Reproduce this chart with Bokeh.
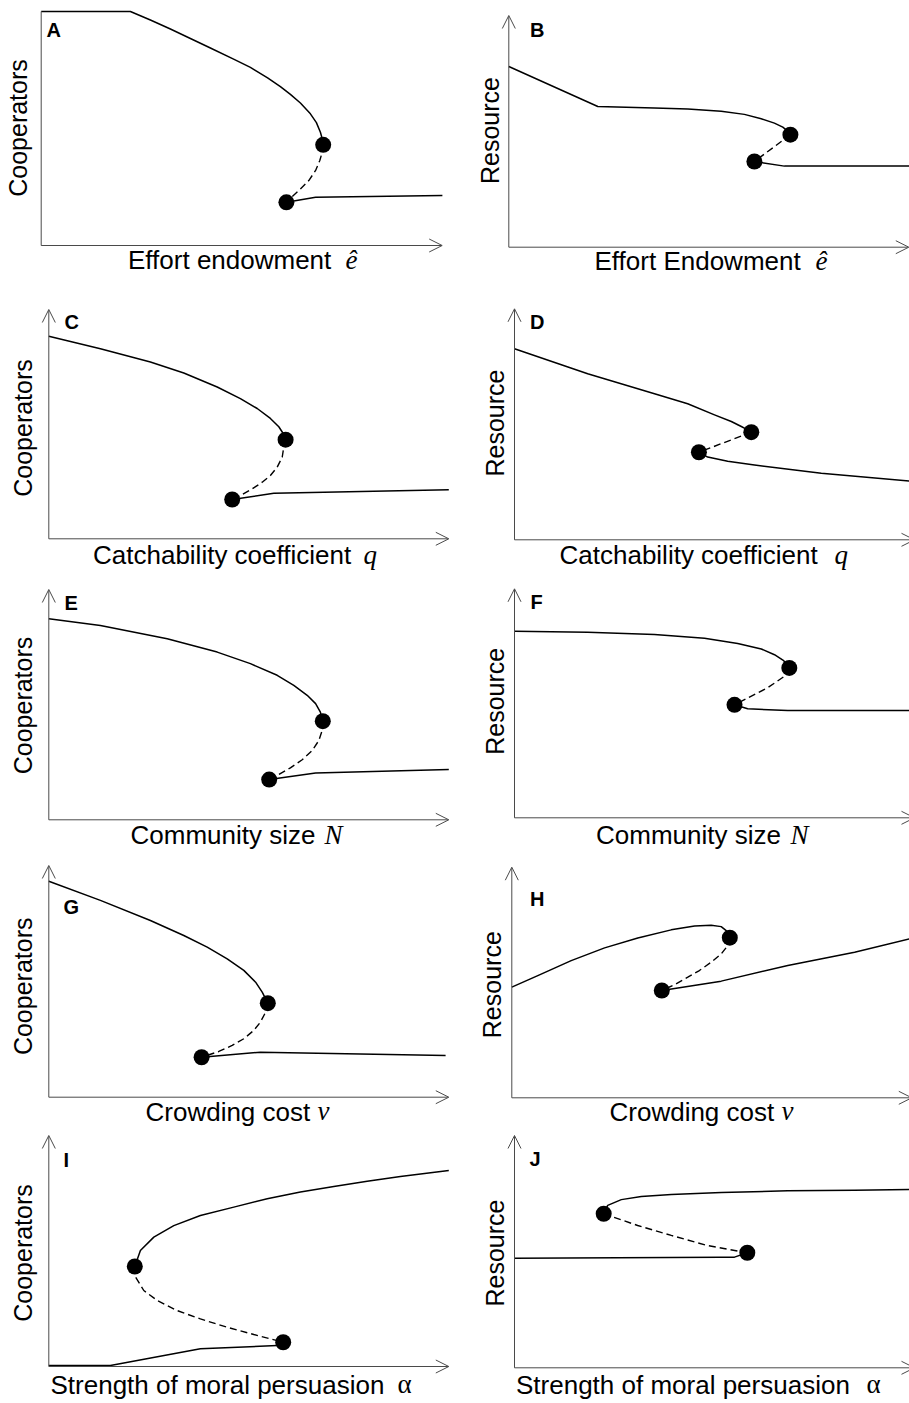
import math
from bokeh.plotting import figure
from bokeh.layouts import column, row
from bokeh.models import Range1d, Label, Arrow, OpenHead
from bokeh.embed import file_html
from bokeh.resources import INLINE

# ---------------- data (arbitrary units) ----------------
# each panel: upper stable branch, unstable (dashed) branch, lower stable branch
A_UP_X = [0, 22.3, 27.3, 32.3, 37.3, 42.3, 48.1, 52.3, 56.6, 59.8, 62.3, 64.8, 67.3, 68.8, 69.8, 70.45, 70.5]
A_UP_Y = [101.3, 101.3, 97.6, 93.7, 89.6, 85.5, 80.7, 77.1, 72.6, 68.8, 65.4, 61.7, 57.0, 53.2, 49.0, 45.0, 43.6]
A_MID_X = [70.5, 70.25, 69.65, 68.6, 66.9, 64.8, 62.75, 61.3]
A_MID_Y = [43.6, 40.4, 36.8, 32.5, 28.1, 24.5, 21.2, 18.7]
A_LO_X = [61.3, 68.6, 100.3]
A_LO_Y = [18.7, 20.9, 21.6]

B_UP_X = [0, 22.25, 36.4, 44.75, 53.1, 58.9, 63.1, 66.4, 68.5, 69.75, 70.4]
B_UP_Y = [78.2, 60.9, 60.3, 59.8, 58.9, 57.5, 55.6, 53.7, 52.0, 50.2, 48.7]
B_MID_X = [70.4, 61.4]
B_MID_Y = [48.7, 37.1]
B_LO_X = [61.4, 68.9, 100.2]
B_LO_Y = [37.1, 35.1, 35.1]

C_UP_X = [0, 12.9, 25.4, 33.75, 42.1, 47.9, 52.1, 55.4, 57.5, 58.6, 59.2]
C_UP_Y = [87.7, 82.3, 76.5, 71.8, 65.7, 60.7, 56.4, 52.1, 48.5, 45.6, 42.9]
C_MID_X = [59.2, 58.75, 58.35, 57.1, 55.4, 53.35, 50.85, 48.35, 45.85]
C_MID_Y = [42.9, 39.7, 35.3, 31.0, 27.4, 24.5, 21.6, 19.2, 17.0]
C_LO_X = [45.85, 56.25, 100]
C_LO_Y = [17.0, 19.7, 21.2]

D_UP_X = [0, 18.3, 35, 43.3, 50, 54.2, 56.7, 58.3, 59.2]
D_UP_Y = [82.7, 71.9, 63.2, 58.9, 54.1, 51.2, 49.05, 47.6, 46.6]
D_MID_X = [59.2, 46.1]
D_MID_Y = [46.6, 37.9]
D_LO_X = [46.1, 48.3, 53.3, 60, 76.7, 98.75]
D_LO_Y = [37.9, 35.8, 34.0, 32.4, 28.8, 25.4]

E_UP_X = [0, 12.9, 29.6, 42.1, 50.4, 57.1, 61.25, 64.6, 66.7, 67.9, 68.5]
E_UP_Y = [87.0, 84.1, 78.4, 72.6, 67.6, 62.55, 58.2, 53.9, 50.3, 46.6, 42.7]
E_MID_X = [68.5, 68.35, 67.5, 65.85, 63.35, 60.4, 57.5, 55.1]
E_MID_Y = [42.7, 38.7, 34.3, 30.0, 26.0, 22.5, 19.6, 17.4]
E_LO_X = [55.1, 66.7, 100]
E_LO_Y = [17.4, 20.3, 21.8]

F_UP_X = [0, 18.3, 35, 47.5, 55.8, 61.7, 65, 67.1, 68.3, 68.7]
F_UP_Y = [80.8, 80.3, 79.3, 77.7, 75.5, 73.1, 70.6, 68.3, 66.3, 64.9]
F_MID_X = [68.7, 67.5, 63.3, 58.3, 55.0]
F_MID_Y = [64.9, 61.3, 56.3, 51.9, 48.9]
F_LO_X = [55.0, 58.3, 68.3, 98.75]
F_LO_Y = [48.9, 47.2, 46.45, 46.45]

G_UP_X = [0, 12.9, 25.4, 33.75, 39.6, 44.6, 48.75, 51.7, 53.35, 54.75]
G_UP_Y = [93.5, 85.2, 76.5, 70.0, 65.0, 59.9, 54.9, 49.8, 45.5, 40.7]
G_MID_X = [54.75, 54.2, 52.9, 51.25, 48.75, 45.85, 42.5, 38.2]
G_MID_Y = [40.7, 36.8, 32.5, 28.9, 25.3, 22.4, 19.8, 17.3]
G_LO_X = [38.2, 52.9, 99.2]
G_LO_Y = [17.3, 19.5, 18.05]

H_UP_X = [0, 6.5, 14.85, 23.2, 31.5, 39.85, 45.7, 49.85, 52.35, 53.6, 54.5]
H_UP_Y = [47.9, 52.9, 59.4, 64.9, 69.2, 72.7, 74.4, 74.7, 74.1, 72.4, 69.3]
H_MID_X = [54.5, 54.0, 52.35, 49.85, 46.9, 44.0, 40.7, 37.5]
H_MID_Y = [69.3, 65.9, 62.3, 58.7, 55.1, 52.2, 49.0, 46.45]
H_LO_X = [37.5, 52.35, 69, 85.7, 99.4]
H_LO_Y = [46.45, 50.5, 57.3, 63.0, 68.8]

I_UP_X = [21.5, 22.9, 26.25, 31.25, 37.9, 46.25, 54.6, 62.9, 71.25, 79.6, 87.9, 100]
I_UP_Y = [43.3, 50.2, 56.0, 61.0, 65.4, 69.0, 72.6, 75.5, 77.9, 80.2, 82.25, 84.8]
I_MID_X = [21.5, 21.7, 23.75, 27.1, 32.1, 37.9, 44.6, 51.25, 58.6]
I_MID_Y = [43.3, 38.7, 32.9, 28.6, 24.2, 20.6, 17.0, 13.85, 10.5]
I_LO_X = [0, 15.4, 37.9, 58.6]
I_LO_Y = [0.4, 0.4, 7.7, 9.2]

J_UP_X = [22.3, 23.3, 26.7, 31.7, 39.2, 51.7, 68.3, 85, 98.75]
J_UP_Y = [66.7, 70.3, 72.8, 74.2, 75.0, 75.9, 76.6, 76.9, 77.2]
J_MID_X = [22.3, 30.8, 39.2, 48.3, 58.2]
J_MID_Y = [66.7, 61.6, 57.3, 52.9, 49.8]
J_LO_X = [0, 51.7, 55, 58.2]
J_LO_Y = [47.4, 47.9, 47.9, 49.8]

LETTERS = ["A", "B", "C", "D", "E", "F", "G", "H", "I", "J"]
Y_LABELS = ["Cooperators", "Resource"]
X_LABELS = ["Effort endowment", "Effort Endowment", "Catchability coefficient",
            "Catchability coefficient", "Community size", "Community size",
            "Crowding cost", "Crowding cost", "Strength of moral persuasion",
            "Strength of moral persuasion"]
X_SYMBOLS = ["ê", "ê", "q", "q", "N", "N", "ν", "ν", "α", "α"]

# ---------------- layout / styling ----------------
PX_PER_X = 4.0
PX_PER_Y = 2.31
SANS = "Liberation Sans"
SERIF = "Liberation Serif"
AXIS_COLOR = "#4a4a4a"
BASE_SHIFT = 0.34   # compensation of the text anchor (fraction of font size)
XLAB_SIZE = 26
SYM_SIZE = 27
YLAB_SIZE = 25
LET_SIZE = 20

COLS = [(0, 454), (454, 909)]
ROWS = [(0, 288), (288, 575), (575, 852), (852, 1127), (1127, 1403)]

# axis boxes (origin-left, top end, right end, origin-bottom) in page pixels
AXES = [(40.7, 11, 441.7, 245), (508.3, 15, 908.3, 246.7),
        (48.3, 309, 448.3, 538.3), (514, 308.3, 914, 539.3),
        (48.3, 589, 448.3, 819.3), (514, 588.3, 914, 817.3),
        (48.3, 865, 448.3, 1096.7), (511.3, 866.7, 911.3, 1097.3),
        (48.3, 1135, 448.3, 1366), (514, 1135, 914, 1367.3)]
# text positions in page pixels: (label left, baseline, symbol left)
XLAB_POS = [(127.5, 268.5, 345), (594, 269.5, 815), (92.5, 563.3, 363), (559, 563.3, 834),
            (130, 843.3, 324), (595.5, 843.3, 790), (145, 1120, 317), (609, 1120, 781),
            (50, 1393, 397), (515.5, 1393, 866)]
YLAB_POS = [(26.2, 127.5), (497.8, 130), (31.2, 427.5), (502.8, 422.5),
            (31.2, 705), (502.8, 700.8), (31.2, 985.8), (499.5, 984.2),
            (31.2, 1252.5), (502.8, 1252.5)]
LETTER_POS = [(46, 36), (529.5, 36.7), (64, 328.3), (529.5, 328.3), (64, 609),
              (530, 608.3), (63, 913.3), (529.5, 905), (63, 1166), (529, 1165)]

DATA = [(A_UP_X, A_UP_Y, A_MID_X, A_MID_Y, A_LO_X, A_LO_Y),
        (B_UP_X, B_UP_Y, B_MID_X, B_MID_Y, B_LO_X, B_LO_Y),
        (C_UP_X, C_UP_Y, C_MID_X, C_MID_Y, C_LO_X, C_LO_Y),
        (D_UP_X, D_UP_Y, D_MID_X, D_MID_Y, D_LO_X, D_LO_Y),
        (E_UP_X, E_UP_Y, E_MID_X, E_MID_Y, E_LO_X, E_LO_Y),
        (F_UP_X, F_UP_Y, F_MID_X, F_MID_Y, F_LO_X, F_LO_Y),
        (G_UP_X, G_UP_Y, G_MID_X, G_MID_Y, G_LO_X, G_LO_Y),
        (H_UP_X, H_UP_Y, H_MID_X, H_MID_Y, H_LO_X, H_LO_Y),
        (I_UP_X, I_UP_Y, I_MID_X, I_MID_Y, I_LO_X, I_LO_Y),
        (J_UP_X, J_UP_Y, J_MID_X, J_MID_Y, J_LO_X, J_LO_Y)]


def make_panel(i):
    cx0, cx1 = COLS[i % 2]
    cy0, cy1 = ROWS[i // 2]
    left, top, right, bottom = AXES[i]

    def dx(px):
        return (px - left) / PX_PER_X

    def dy(py):
        return (bottom - py) / PX_PER_Y

    p = figure(width=cx1 - cx0, height=cy1 - cy0,
               x_range=Range1d(dx(cx0), dx(cx1)), y_range=Range1d(dy(cy1), dy(cy0)),
               x_axis_location=None, y_axis_location=None,
               min_border=0, min_border_left=0, min_border_right=0,
               min_border_top=0, min_border_bottom=0,
               output_backend="svg", toolbar_location=None, title=None)
    p.background_fill_color = "white"
    p.border_fill_color = "white"
    p.outline_line_color = None
    p.xgrid.visible = False
    p.ygrid.visible = False

    xmax = dx(right)
    ymax = dy(top)
    # axes with open arrow heads
    p.add_layout(Arrow(end=OpenHead(size=13, line_color=AXIS_COLOR, line_width=1),
                       x_start=0, y_start=0, x_end=xmax, y_end=0,
                       line_color=AXIS_COLOR, line_width=1))
    p.add_layout(Arrow(end=None if i == 0 else OpenHead(size=13, line_color=AXIS_COLOR, line_width=1),
                       x_start=0, y_start=0, x_end=0, y_end=ymax,
                       line_color=AXIS_COLOR, line_width=1))

    ux, uy, mx, my, lx, ly = DATA[i]
    p.line(ux, uy, line_color="black", line_width=1.5, line_join="round")
    p.line(lx, ly, line_color="black", line_width=1.5, line_join="round")
    p.line(mx, my, line_color="black", line_width=1.4, line_dash="7 4")
    p.scatter([mx[0], mx[-1]], [my[0], my[-1]], size=16, marker="circle",
              fill_color="black", line_color=None)

    # texts
    xl, base, sx = XLAB_POS[i]
    p.add_layout(Label(x=dx(xl), y=dy(base - BASE_SHIFT * XLAB_SIZE), text=X_LABELS[i],
                       text_font=SANS, text_font_size=f"{XLAB_SIZE}px", text_color="black",
                       text_align="left", text_baseline="alphabetic"))
    p.add_layout(Label(x=dx(sx), y=dy(base - BASE_SHIFT * SYM_SIZE), text=X_SYMBOLS[i],
                       text_font=SERIF, text_font_size=f"{SYM_SIZE}px", text_color="black",
                       text_font_style="normal" if X_SYMBOLS[i] == "α" else "italic",
                       text_align="left", text_baseline="alphabetic"))
    yx, yc = YLAB_POS[i]
    p.add_layout(Label(x=dx(yx - BASE_SHIFT * YLAB_SIZE), y=dy(yc), text=Y_LABELS[i % 2],
                       text_font=SANS, text_font_size=f"{YLAB_SIZE}px", text_color="black",
                       angle=math.pi / 2, text_align="center", text_baseline="alphabetic"))
    lxp, lyp = LETTER_POS[i]
    p.add_layout(Label(x=dx(lxp), y=dy(lyp - BASE_SHIFT * LET_SIZE), text=LETTERS[i],
                       text_font=SANS, text_font_size=f"{LET_SIZE}px", text_font_style="bold",
                       text_color="black", text_align="left", text_baseline="alphabetic"))
    return p


panels = [make_panel(i) for i in range(10)]
layout = column(*[row(panels[2 * r], panels[2 * r + 1]) for r in range(5)])

open("out.html", "w").write(file_html(layout, INLINE, "Bifurcation diagrams"))
